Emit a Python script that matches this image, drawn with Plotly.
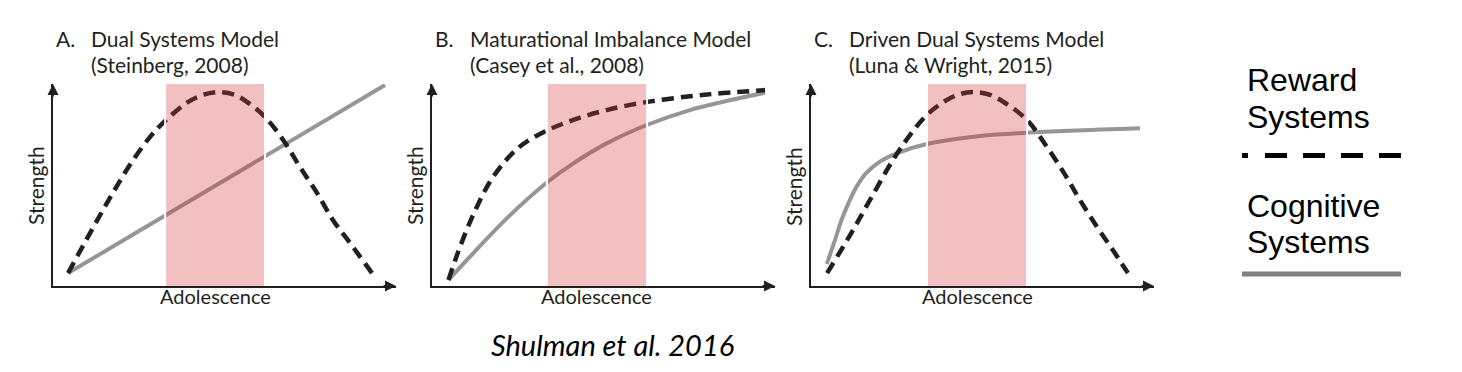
import plotly.graph_objects as go

W, H = 1462, 372

# ---------------- data (age units 0-10 on x, strength units 0-10 on y) ----------------
panel_letters = ["A.", "B.", "C."]
panel_titles = ["Dual Systems Model", "Maturational Imbalance Model", "Driven Dual Systems Model"]
panel_refs = ["(Steinberg, 2008)", "(Casey et al., 2008)", "(Luna & Wright, 2015)"]
x_label = "Adolescence"
y_label = "Strength"
legend_reward = ["Reward", "Systems"]
legend_cognitive = ["Cognitive", "Systems"]
caption = "Shulman et al. 2016"

adolescence_start = [3.27, 3.35, 3.38]
adolescence_end = [6.18, 6.27, 6.30]

# Panel A - Dual Systems Model
a_reward_x = [0.44, 1.08, 1.66, 2.24, 2.83, 3.27, 3.85, 4.29, 4.78, 5.31, 5.74, 6.18, 6.71, 7.20, 7.70, 8.16, 8.66, 9.30]
a_reward_y = [0.64, 2.62, 4.36, 5.99, 7.38, 8.17, 9.01, 9.41, 9.60, 9.46, 9.01, 8.37, 7.23, 5.89, 4.60, 3.27, 2.13, 0.64]
a_cog_x = [0.44, 9.68]
a_cog_y = [0.64, 9.95]

# Panel B - Maturational Imbalance Model
b_reward_x = [0.48, 0.72, 1.01, 1.30, 1.69, 2.18, 2.66, 3.34, 4.12, 5.09, 6.26, 7.52, 8.49, 9.71]
b_reward_y = [0.30, 1.49, 2.77, 3.89, 5.16, 6.27, 7.03, 7.69, 8.22, 8.71, 9.11, 9.39, 9.55, 9.70]
b_cog_x = [0.48, 1.20, 2.18, 3.34, 4.12, 5.09, 6.26, 7.52, 8.49, 9.71]
b_cog_y = [0.30, 1.62, 3.35, 5.11, 6.07, 7.06, 7.97, 8.71, 9.12, 9.57]

# Panel C - Driven Dual Systems Model
c_reward_x = [0.47, 1.14, 1.72, 2.39, 2.89, 3.38, 3.91, 4.34, 4.72, 5.22, 5.66, 6.30, 6.88, 7.41, 7.84, 8.34, 8.80, 9.24]
c_reward_y = [0.64, 2.52, 4.26, 6.24, 7.48, 8.47, 9.16, 9.50, 9.60, 9.46, 9.06, 8.22, 6.88, 5.50, 4.26, 2.92, 1.78, 0.64]
c_cog_x = [0.46, 0.70, 0.89, 1.09, 1.33, 1.62, 2.01, 2.50, 3.37, 4.93, 6.29, 9.59]
c_cog_y = [1.09, 2.28, 3.27, 4.09, 4.92, 5.61, 6.16, 6.57, 7.03, 7.43, 7.59, 7.81]

reward_x = [a_reward_x, b_reward_x, c_reward_x]
reward_y = [a_reward_y, b_reward_y, c_reward_y]
cog_x = [a_cog_x, b_cog_x, c_cog_x]
cog_y = [a_cog_y, b_cog_y, c_cog_y]

X_MAX, Y_MAX = 10, 10

# ---------------- layout helpers (pixel -> paper) ----------------
def fx(p):
    return p / W


def fy(p):
    return 1 - p / H


panel_left = [53, 432, 811]
panel_width = 343
plot_top, plot_bottom = 84, 286

INK = "#231f20"
GREY = "#969696"
TITLE_FONT = "Lato, 'Open Sans', sans-serif"
LABEL_FONT = "Lato, 'Open Sans', sans-serif"
LEGEND_FONT = "'Liberation Sans', Arial, sans-serif"

fig = go.Figure()
annotations = []
shapes = []
layout_axes = {}

for i in range(3):
    xa = "x" if i == 0 else f"x{i + 1}"
    ya = "y" if i == 0 else f"y{i + 1}"
    xkey = "xaxis" if i == 0 else f"xaxis{i + 1}"
    ykey = "yaxis" if i == 0 else f"yaxis{i + 1}"

    fig.add_trace(go.Scatter(
        x=cog_x[i], y=cog_y[i], xaxis=xa, yaxis=ya, mode="lines",
        line=dict(color=GREY, width=4, shape="spline", smoothing=1.0),
        cliponaxis=False, showlegend=False, hoverinfo="skip"))
    fig.add_trace(go.Scatter(
        x=reward_x[i], y=reward_y[i], xaxis=xa, yaxis=ya, mode="lines",
        line=dict(color=INK, width=4.5, dash="12px,7px", shape="spline", smoothing=1.0),
        cliponaxis=False, showlegend=False, hoverinfo="skip"))

    common = dict(showgrid=False, zeroline=False, showticklabels=False, ticks="",
                  showline=True, linecolor=INK, linewidth=2, fixedrange=True)
    layout_axes[xkey] = dict(domain=[fx(panel_left[i]), fx(panel_left[i] + panel_width)],
                             range=[0, X_MAX], anchor=ya, **common)
    layout_axes[ykey] = dict(domain=[fy(plot_bottom), fy(plot_top)],
                             range=[0, Y_MAX], anchor=xa, **common)

    # arrow heads
    annotations.append(dict(x=X_MAX, y=0, xref=xa, yref=ya, ax=-14, ay=0, text="",
                            showarrow=True, arrowhead=2, arrowsize=1.1, arrowwidth=2,
                            arrowcolor=INK, standoff=0))
    annotations.append(dict(x=0, y=Y_MAX, xref=xa, yref=ya, ax=0, ay=14, text="",
                            showarrow=True, arrowhead=2, arrowsize=1.1, arrowwidth=2,
                            arrowcolor=INK, standoff=0))

    # adolescence band
    shapes.append(dict(type="rect", xref=xa, yref=ya,
                       x0=adolescence_start[i], x1=adolescence_end[i], y0=-0.05, y1=Y_MAX,
                       fillcolor="rgba(213,52,52,0.31)", line=dict(width=0), layer="above"))
    for edge in (adolescence_start[i], adolescence_end[i]):
        shapes.append(dict(type="line", xref=xa, yref=ya, x0=edge, x1=edge, y0=-0.12, y1=Y_MAX,
                           line=dict(color="white", width=2), layer="above"))

    # titles
    tx = panel_left[i]
    annotations.append(dict(x=fx(tx + 1), y=fy(38), xref="paper", yref="paper",
                            text=panel_letters[i], showarrow=False, xanchor="left", yanchor="middle",
                            font=dict(family=TITLE_FONT, size=21, color=INK)))
    annotations.append(dict(x=fx(tx + 36), y=fy(38), xref="paper", yref="paper",
                            text=panel_titles[i], showarrow=False, xanchor="left", yanchor="middle",
                            font=dict(family=TITLE_FONT, size=21, color=INK)))
    annotations.append(dict(x=fx(tx + 36), y=fy(64), xref="paper", yref="paper",
                            text=panel_refs[i], showarrow=False, xanchor="left", yanchor="middle",
                            font=dict(family=TITLE_FONT, size=21, color=INK)))

    # axis labels
    annotations.append(dict(x=fx(tx - 18), y=fy(186), xref="paper", yref="paper",
                            text=y_label, showarrow=False, textangle=-90,
                            xanchor="center", yanchor="middle",
                            font=dict(family=LABEL_FONT, size=21, color=INK)))
    band_mid = (adolescence_start[i] + adolescence_end[i]) / 2
    annotations.append(dict(x=band_mid, y=fy(296), xref=xa, yref="paper",
                            text=x_label, showarrow=False, xanchor="center", yanchor="middle",
                            font=dict(family=LABEL_FONT, size=20, color=INK)))

# legend (drawn as text + sample lines)
for txt, yc in zip(legend_reward + legend_cognitive, [80, 117, 206, 242]):
    annotations.append(dict(x=fx(1245), y=fy(yc), xref="paper", yref="paper", text=txt,
                            showarrow=False, xanchor="left", yanchor="middle",
                            font=dict(family=LEGEND_FONT, size=32, color="#000000")))
shapes.append(dict(type="line", xref="paper", yref="paper", x0=fx(1242), x1=fx(1401),
                   y0=fy(155.5), y1=fy(155.5),
                   line=dict(color="#000000", width=5,
                             dash="6px,17px,22px,16px,22px,16px,22px,16px,22px,16px")))
shapes.append(dict(type="line", xref="paper", yref="paper", x0=fx(1242), x1=fx(1401),
                   y0=fy(274), y1=fy(274), line=dict(color="#808080", width=5)))

# caption
annotations.append(dict(x=fx(612), y=fy(344), xref="paper", yref="paper", text=caption,
                        showarrow=False, xanchor="center", yanchor="middle",
                        font=dict(family=LABEL_FONT, size=29, color="#000000", style="italic")))

fig.update_layout(width=W, height=H, margin=dict(l=0, r=0, t=0, b=0),
                  paper_bgcolor="white", plot_bgcolor="rgba(0,0,0,0)",
                  annotations=annotations, shapes=shapes, showlegend=False, **layout_axes)

fig.write_html("out.html", config={"displayModeBar": False},
               post_script="document.body.style.margin='0';")
